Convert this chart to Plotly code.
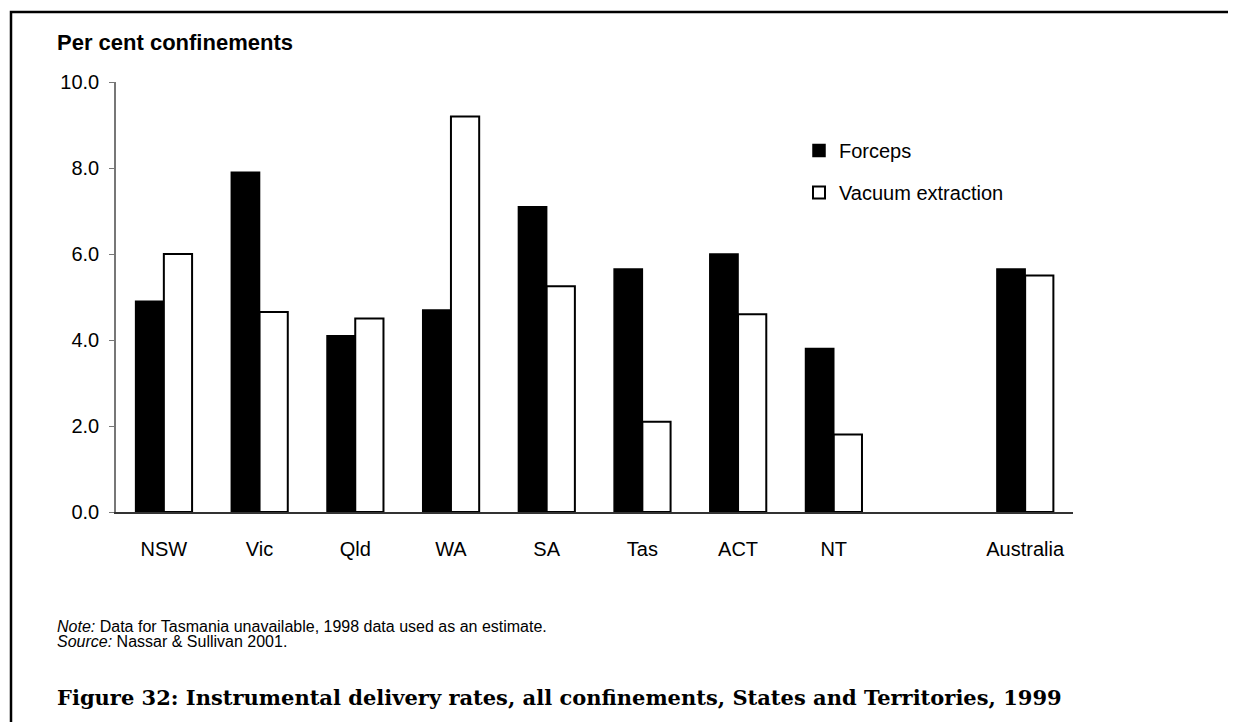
import plotly.graph_objects as go

# data
states = ["NSW", "Vic", "Qld", "WA", "SA", "Tas", "ACT", "NT", " ", "Australia"]
forceps = [4.9, 7.9, 4.1, 4.7, 7.1, 5.65, 6.0, 3.8, None, 5.65]
vacuum = [6.0, 4.65, 4.5, 9.2, 5.25, 2.1, 4.6, 1.8, None, 5.5]
y_ticks = [0.0, 2.0, 4.0, 6.0, 8.0, 10.0]

W, H = 1236, 722
OFF = 8  # page body margin
# plot area wanted at 116..1073 x 82..512 on the page
L, T = 116 - OFF, 82 - OFF
PW, PH = 957, 430
R, B = W - L - PW, H - T - PH


def px(x, y):
    # pixel position on the page -> paper coords
    return (x - OFF - L) / PW, (T + PH - (y - OFF)) / PH


fig = go.Figure()
fig.add_trace(
    go.Bar(
        x=states,
        y=forceps,
        name="Forceps",
        legendgroup="a",
        marker=dict(color="black", line=dict(color="black", width=1.5)),
    )
)
fig.add_trace(
    go.Bar(
        x=states,
        y=vacuum,
        name="Vacuum extraction",
        legendgroup="b",
        marker=dict(color="white", line=dict(color="black", width=2)),
    )
)

font = "Arial, Liberation Sans, sans-serif"
lx, ly = px(799, 131)
fig.update_layout(
    width=W,
    height=H,
    margin=dict(l=L, r=R, t=T, b=B),
    paper_bgcolor="white",
    plot_bgcolor="white",
    font=dict(family=font, size=20, color="black"),
    barmode="group",
    bargap=0.41,
    bargroupgap=0,
    showlegend=True,
    legend=dict(
        x=lx,
        y=ly,
        xanchor="left",
        yanchor="top",
        traceorder="grouped",
        tracegroupgap=13,
        itemwidth=30,
        font=dict(size=20),
        bgcolor="rgba(0,0,0,0)",
    ),
    xaxis=dict(
        type="category",
        categoryorder="array",
        categoryarray=states,
        range=[-0.5, len(states) - 0.5],
        showline=True,
        linecolor="#333",
        linewidth=1.5,
        ticks="",
        showgrid=False,
        ticklabelstandoff=18,
        tickfont=dict(size=20),
    ),
    yaxis=dict(
        range=[0, 10],
        tickvals=y_ticks,
        tickformat=".1f",
        showline=True,
        linecolor="#777",
        linewidth=1.5,
        ticks="outside",
        ticklen=5,
        tickcolor="#777",
        showgrid=False,
        zeroline=False,
        ticklabelstandoff=6,
        tickfont=dict(size=20),
    ),
)

ax, ay = px(55, 42)
fig.add_annotation(
    text="<b>Per cent confinements</b>",
    xref="paper", yref="paper", x=ax, y=ay,
    xanchor="left", yanchor="middle", showarrow=False,
    font=dict(family=font, size=22),
)
notes = [
    "<i>Note:</i> Data for Tasmania unavailable, 1998 data used as an estimate.",
    "<i>Source:</i> Nassar &amp; Sullivan 2001.",
]
for i, line in enumerate(notes):
    nx, ny = px(55, 626 + 15 * i)
    fig.add_annotation(
        text=line,
        xref="paper", yref="paper", x=nx, y=ny,
        xanchor="left", yanchor="middle", align="left", showarrow=False,
        font=dict(family=font, size=16),
    )
cx, cy = px(55, 697)
fig.add_annotation(
    text="<b>Figure 32: Instrumental delivery rates, all confinements, States and Territories, 1999</b>",
    xref="paper", yref="paper", x=cx, y=cy,
    xanchor="left", yanchor="middle", showarrow=False,
    font=dict(family="Palatino Linotype, Book Antiqua, DejaVu Serif, serif", size=21),
)

# page frame (top and left edges visible in the reference)
x0, y0 = px(11, 12)
x1, y1 = px(W + 30, H + 30)
fig.add_shape(
    type="rect", xref="paper", yref="paper",
    x0=x0, y0=y1, x1=x1, y1=y0,
    line=dict(color="black", width=2.5),
)

fig.write_html("out.html")
